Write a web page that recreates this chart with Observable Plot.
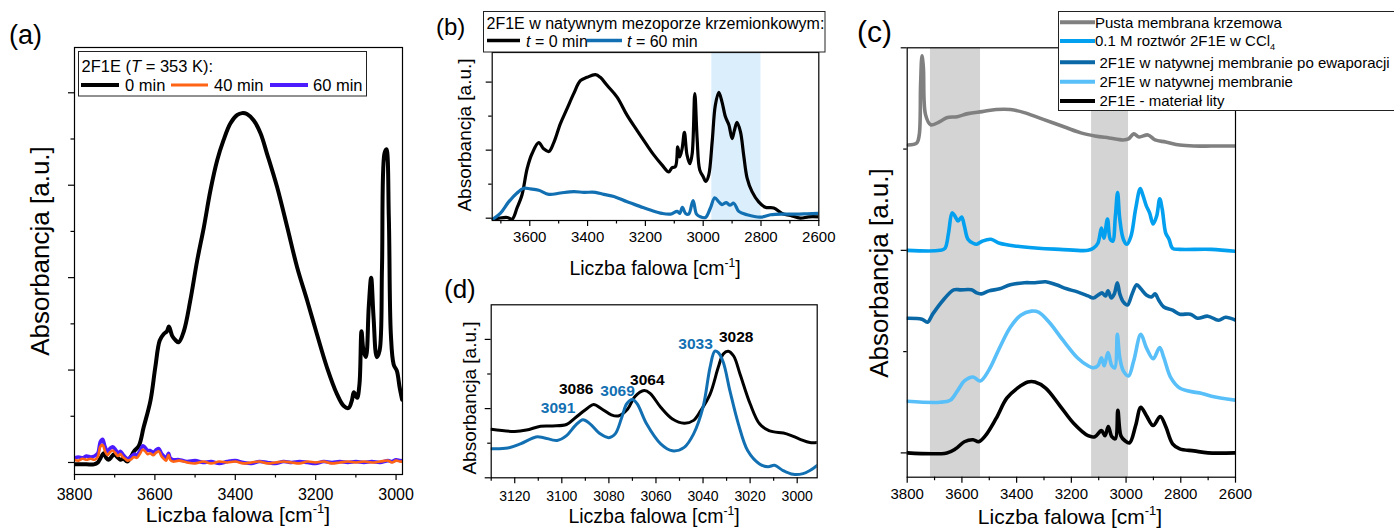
<!DOCTYPE html>
<html><head><meta charset="utf-8">
<script src="https://cdn.jsdelivr.net/npm/d3@7"></script>
<script src="https://cdn.jsdelivr.net/npm/@observablehq/plot@0.6"></script>
<style>
body{margin:0;background:#fff;}
#root{position:relative;width:1394px;height:528px;overflow:hidden;background:#fff;}
#root svg{position:absolute;}
</style></head><body><div id="root"></div>
<script>
// ---------- DATA ----------
// Panel (a): 2F1E (T = 353 K)
const aWn0 = [3800,3770,3752,3742,3735,3727,3721,3715,3708,3702,3694,3686,3678,3669,3660,3652,3640,3628,3611,3599,3588,3578,3570,3565,3557,3548,3541,3528,3512,3495,3478,3462,3445,3429,3412,3395,3383,3371,3354,3337,3321,3296,3271,3246,3221,3197,3172,3147,3130,3118,3110,3105,3097,3091,3086,3081,3075,3068,3062,3056,3048,3041,3035,3029,3024,3018,3013,3006,2998,2991,2985];
const aAbs0 = [-0.02,-0.02,-0.02,0.0,0.05,0.10,0.05,0.03,0.06,0.09,0.06,0.03,0.04,0.01,0.06,0.12,0.18,0.38,0.67,1.03,1.32,1.39,1.42,1.47,1.37,1.32,1.30,1.42,1.75,2.18,2.55,2.94,3.27,3.49,3.67,3.76,3.78,3.77,3.70,3.56,3.34,2.98,2.55,2.11,1.75,1.39,1.03,0.74,0.61,0.59,0.67,0.76,0.70,0.85,1.42,1.21,1.14,1.68,2.00,1.57,1.14,1.21,2.11,3.34,3.39,2.65,1.39,1.06,0.99,0.81,0.68];
const aWnT = [3800,3790,3780,3770,3760,3750,3742,3736,3730,3724,3718,3712,3705,3698,3692,3686,3680,3674,3668,3660,3652,3645,3638,3630,3624,3618,3612,3604,3596,3590,3584,3578,3572,3566,3562,3555,3540,3520,3500,3480,3460,3440,3420,3400,3380,3360,3340,3320,3300,3280,3260,3240,3220,3200,3180,3160,3140,3120,3100,3080,3060,3040,3020,3010,3000,2990,2984];
const aAbs40 = [0.03,0.02,0.04,0.03,0.04,0.03,0.06,0.17,0.19,0.12,0.08,0.11,0.13,0.10,0.07,0.09,0.06,0.04,0.02,0.03,0.06,0.05,0.09,0.14,0.12,0.09,0.10,0.08,0.11,0.12,0.07,0.04,0.02,0.08,0.03,0.01,0.02,0.0,-0.01,0.01,-0.01,0.01,0.0,0.01,-0.01,0.0,0.01,-0.01,0.0,0.01,0.0,-0.01,0.01,0.0,0.01,-0.01,0.0,0.01,0.0,0.01,0.0,0.01,0.02,0.0,0.02,0.01,0.01];
const aAbs60 = [0.05,0.06,0.05,0.07,0.06,0.07,0.10,0.22,0.25,0.17,0.12,0.15,0.17,0.14,0.10,0.12,0.09,0.06,0.04,0.06,0.09,0.08,0.12,0.18,0.16,0.13,0.13,0.11,0.14,0.15,0.10,0.07,0.04,0.10,0.05,0.03,0.03,0.01,0.02,0.0,0.01,-0.01,0.01,0.02,0.0,-0.01,0.01,0.0,-0.01,0.01,0.0,0.01,0.0,-0.01,0.01,0.0,0.01,0.0,0.01,0.0,0.01,0.0,0.02,0.01,0.03,0.02,0.02];

// Panel (b): 2F1E in native silica mesopore
const bWn0 = [3730,3707,3678,3661,3644,3627,3609,3592,3569,3552,3534,3517,3494,3471,3448,3425,3402,3373,3356,3332,3298,3263,3229,3194,3171,3142,3119,3108,3096,3088,3081,3073,3065,3056,3046,3038,3029,3021,3012,3000,2991,2981,2969,2958,2946,2935,2923,2911,2900,2892,2883,2871,2860,2848,2831,2808,2785,2756,2727,2698,2664,2635,2600];
const bAbs0 = [-0.02,0.0,0.01,-0.015,0.15,0.34,0.73,0.95,1.11,1.02,0.98,1.11,1.39,1.61,1.83,2.02,2.07,2.11,2.07,1.95,1.78,1.51,1.29,1.07,0.93,0.78,0.68,0.74,0.76,1.05,0.90,1.02,1.26,0.93,0.80,0.95,1.83,1.17,0.71,0.61,0.54,0.63,1.12,1.66,1.85,1.71,1.49,1.37,1.17,1.29,1.41,1.27,0.93,0.59,0.39,0.24,0.16,0.15,0.07,0.04,0.0,0.02,0.02];
const bWn60 = [3730,3702,3673,3644,3621,3598,3569,3534,3494,3448,3413,3373,3344,3309,3263,3217,3183,3142,3113,3090,3081,3072,3061,3050,3035,3023,3010,2992,2975,2960,2946,2935,2920,2908,2894,2877,2848,2802,2767,2721,2675,2640,2600];
const bAbs60 = [-0.02,0.07,0.24,0.37,0.44,0.43,0.41,0.35,0.37,0.39,0.38,0.38,0.35,0.32,0.24,0.17,0.12,0.07,0.06,0.10,0.07,0.16,0.07,0.06,0.26,0.06,0.02,0.01,0.15,0.30,0.24,0.20,0.23,0.19,0.22,0.10,0.05,0.015,0.05,0.06,0.06,0.065,0.07];
const bBandFrom = [2970];
const bBandTo = [2800];

// Panel (c): stacked spectra
const cWnGray = [3797,3765,3756,3751,3746,3741,3733,3714,3681,3656,3617,3578,3526,3475,3423,3372,3320,3268,3217,3165,3114,3062,3010,2991,2972,2952,2920,2894,2855,2804,2752,2688,2600];
const cAbsGray = [3.04,3.06,3.14,3.64,3.92,3.81,3.34,3.24,3.27,3.31,3.32,3.35,3.37,3.39,3.39,3.36,3.31,3.26,3.21,3.16,3.13,3.11,3.09,3.10,3.15,3.12,3.14,3.09,3.07,3.04,3.03,3.03,3.03];
const cWnSol = [3800,3681,3662,3649,3636,3626,3614,3601,3591,3578,3559,3546,3526,3494,3462,3397,3320,3243,3139,3120,3103,3090,3081,3068,3058,3049,3039,3031,3023,3010,2997,2982,2965,2948,2938,2926,2914,2901,2888,2877,2868,2855,2843,2830,2804,2688,2600];
const cAbsSol = [2.0,2.0,2.02,2.17,2.37,2.34,2.29,2.33,2.24,2.11,2.07,2.06,2.09,2.11,2.07,2.04,2.02,2.01,2.0,2.02,2.07,2.22,2.12,2.31,2.11,2.09,2.34,2.57,2.31,2.11,2.06,2.14,2.41,2.61,2.54,2.44,2.37,2.26,2.34,2.51,2.41,2.17,2.11,2.02,2.01,2.01,1.99];
const cWnEvap = [3800,3746,3726,3707,3668,3630,3604,3565,3546,3529,3501,3462,3423,3372,3333,3294,3255,3217,3178,3139,3120,3101,3088,3075,3066,3054,3043,3032,3023,3010,2995,2978,2961,2946,2926,2907,2894,2881,2862,2830,2804,2765,2739,2701,2662,2636,2600];
const cAbsEvap = [1.33,1.32,1.29,1.37,1.51,1.61,1.61,1.61,1.58,1.57,1.60,1.62,1.66,1.68,1.68,1.69,1.66,1.62,1.59,1.55,1.53,1.56,1.58,1.55,1.60,1.53,1.57,1.68,1.57,1.49,1.46,1.57,1.66,1.62,1.56,1.54,1.57,1.51,1.44,1.41,1.37,1.37,1.33,1.35,1.31,1.34,1.31];
const cWnNat = [3800,3681,3643,3617,3591,3559,3533,3501,3462,3423,3385,3346,3320,3281,3230,3178,3139,3120,3103,3090,3080,3066,3052,3041,3032,3023,3010,2991,2972,2946,2926,2901,2877,2862,2836,2804,2752,2726,2688,2600];
const cAbsNat = [0.51,0.50,0.52,0.61,0.71,0.75,0.71,0.82,1.04,1.24,1.36,1.40,1.39,1.29,1.11,0.94,0.86,0.84,0.86,0.94,0.86,0.99,0.86,0.84,1.17,0.94,0.81,0.76,0.91,1.17,1.04,0.93,1.04,0.94,0.74,0.64,0.60,0.59,0.56,0.52];
const cWnBulk = [3800,3655,3623,3591,3559,3539,3514,3475,3436,3397,3359,3333,3294,3243,3191,3139,3114,3090,3077,3065,3052,3039,3030,3019,3004,2987,2965,2946,2926,2901,2875,2855,2830,2804,2752,2701,2600];
const cAbsBulk = [0.0,0.0,0.04,0.11,0.13,0.11,0.17,0.34,0.54,0.64,0.70,0.70,0.64,0.47,0.29,0.17,0.16,0.22,0.17,0.26,0.16,0.14,0.42,0.17,0.12,0.10,0.27,0.45,0.37,0.27,0.36,0.26,0.09,0.04,0.02,0.0,0.0];
const cBandFrom = [3715,3126];
const cBandTo = [3532,2991];

// Panel (d): C-H region zoom
const dWn0 = [3130,3120,3115,3109,3104,3098,3094,3089,3086.5,3083,3079,3076,3072,3069,3065,3062.5,3058,3053,3048,3044,3041,3037,3033.5,3031.4,3029.3,3027,3024.3,3020,3016,3012,3004.5,2999,2994.6,2991.5];
const dAbs0 = [0.70,0.67,0.69,0.745,0.75,0.77,0.875,1.01,1.06,0.995,0.91,0.894,0.995,1.17,1.26,1.22,1.02,0.85,0.79,0.83,0.97,1.21,1.60,1.79,1.83,1.76,1.50,1.07,0.78,0.68,0.635,0.56,0.51,0.51];
const dWn60 = [3130,3123,3117.6,3111,3107.7,3102,3098,3094.3,3091,3088,3083.7,3080,3077.3,3074.5,3072.4,3070,3068,3064,3058,3053,3048,3044,3040,3037,3035,3033.5,3031.4,3028.6,3025,3021,3016,3012.4,3009.6,3006,3001.7,2997.5,2994.6,2991.5];
const dAbs60 = [0.42,0.43,0.49,0.59,0.58,0.54,0.61,0.755,0.84,0.78,0.635,0.58,0.635,0.875,1.07,1.13,1.07,0.78,0.49,0.39,0.44,0.635,1.02,1.60,1.83,1.81,1.67,1.26,0.78,0.39,0.20,0.16,0.18,0.105,0.05,0.06,0.105,0.18];
const dLabel0 = ["3086","3064","3028"];
const dLabel0Wn = [3093.9,3063.7,3025.9];
const dLabel0Abs = [1.28,1.41,2.03];
const dLabel60 = ["3091","3069","3033"];
const dLabel60Wn = [3101.6,3076.3,3043.2];
const dLabel60Abs = [1.01,1.25,1.94];

// Tick labels
const ticksA = [3800,3600,3400,3200,3000];
const ticksBC = [3800,3600,3400,3200,3000,2800,2600];
const ticksD = [3120,3100,3080,3060,3040,3020,3000];

// ---------- DRAWING ----------
const FONT = '"Liberation Sans", Arial, Helvetica, sans-serif';
const root = document.getElementById("root");
const pts = (w, a) => w.map((x, i) => ({x, y: a[i]}));
const range = (a, b, s) => d3.range(a, b + s / 2, s);

function panel(cfg) {
  const marks = [];
  if (cfg.bands) {
    const bd = cfg.bands.from.map((f, i) => ({x1: f, x2: cfg.bands.to[i]}));
    marks.push(Plot.rect(bd, {x1: "x1", x2: "x2", fill: cfg.bands.fill}));
  }
  for (const s of cfg.series) {
    marks.push(Plot.line(pts(s.w, s.a), {x: "x", y: "y", stroke: s.color, strokeWidth: s.width, curve: "catmull-rom", clip: true, strokeLinejoin: "round"}));
  }
  if (cfg.extra) marks.push(...cfg.extra);
  marks.push(Plot.frame({stroke: "#000", strokeWidth: 1.2}));
  marks.push(Plot.axisX({ticks: cfg.xMajor, tickSize: 6, tickPadding: cfg.pad, tickFormat: d => String(d), label: null, strokeWidth: 1.2}));
  marks.push(Plot.axisX({ticks: cfg.xMinor, tickSize: 3.5, tickFormat: () => "", label: null, strokeWidth: 1.2}));
  marks.push(Plot.axisY({ticks: cfg.yMajor, tickSize: 6, tickFormat: () => "", label: null, strokeWidth: 1.2}));
  marks.push(Plot.axisY({ticks: cfg.yMinor, tickSize: 3.5, tickFormat: () => "", label: null, strokeWidth: 1.2}));
  const svg = Plot.plot({
    width: cfg.width, height: cfg.height,
    marginLeft: cfg.m[0], marginRight: cfg.m[1], marginTop: cfg.m[2], marginBottom: cfg.m[3],
    x: {domain: cfg.xDomain},
    y: {domain: cfg.yDomain},
    style: {fontFamily: FONT, fontSize: cfg.font + "px", color: "#000", background: "transparent", overflow: "visible"},
    marks
  });
  d3.select(svg).selectAll("text").filter(function () { return this.textContent === ""; }).remove();
  svg.style.left = cfg.left + "px";
  svg.style.top = cfg.top + "px";
  root.appendChild(svg);
}

// (a)
panel({
  left: 0, top: 0, width: 420, height: 528, m: [74, 18, 47, 54],
  xDomain: [3800, 2984], yDomain: [-0.13, 4.49],
  xMajor: ticksA, xMinor: range(3100, 3700, 200),
  yMajor: [0, 1, 2, 3, 4], yMinor: [0.5, 1.5, 2.5, 3.5],
  font: 16, pad: 8,
  series: [
    {w: aWn0, a: aAbs0, color: "#000", width: 4},
    {w: aWnT, a: aAbs60, color: "#4c1cff", width: 3.6},
    {w: aWnT, a: aAbs40, color: "#ff6414", width: 2.6}
  ]
});
// (b)
panel({
  left: 420, top: 0, width: 410, height: 270, m: [71.7, 11.7, 52, 50],
  xDomain: [3730, 2600], yDomain: [-0.034, 2.435],
  xMajor: [3600,3400,3200,3000,2800,2600], xMinor: range(2700, 3700, 200),
  yMajor: [0, 1, 2], yMinor: [0.5, 1.5],
  font: 15, pad: 5,
  bands: {from: bBandFrom, to: bBandTo, fill: "#dbeefc"},
  series: [
    {w: bWn0, a: bAbs0, color: "#000", width: 3.2},
    {w: bWn60, a: bAbs60, color: "#1270b2", width: 3.2}
  ]
});
// (c)
panel({
  left: 840, top: 0, width: 554, height: 528, m: [66.7, 159, 47.3, 51.3],
  xDomain: [3800, 2600], yDomain: [-0.24, 4.0],
  xMajor: ticksBC, xMinor: range(2700, 3700, 200),
  yMajor: [0, 2, 4], yMinor: [1, 3],
  font: 15, pad: 5,
  bands: {from: cBandFrom, to: cBandTo, fill: "#d4d4d4"},
  series: [
    {w: cWnGray, a: cAbsGray, color: "#808080", width: 3.6},
    {w: cWnSol, a: cAbsSol, color: "#04a0f0", width: 3.6},
    {w: cWnEvap, a: cAbsEvap, color: "#0b68a6", width: 3.6},
    {w: cWnNat, a: cAbsNat, color: "#58bff8", width: 3.6},
    {w: cWnBulk, a: cAbsBulk, color: "#000", width: 3.6}
  ]
});
// (d)
panel({
  left: 420, top: 270, width: 410, height: 258, m: [70.7, 13.3, 34.3, 50.7],
  xDomain: [3130, 2991.5], yDomain: [0, 2.5],
  xMajor: ticksD, xMinor: range(3010, 3130, 20),
  yMajor: [0, 1, 2], yMinor: [0.5, 1.5],
  font: 14, pad: 7,
  series: [
    {w: dWn0, a: dAbs0, color: "#000", width: 3},
    {w: dWn60, a: dAbs60, color: "#1270b2", width: 3}
  ],
  extra: [
    Plot.text(dLabel0, {x: (d, i) => dLabel0Wn[i], y: (d, i) => dLabel0Abs[i], text: d => d, fill: "#000", fontWeight: "bold", fontSize: 15.5, lineAnchor: "middle"}),
    Plot.text(dLabel60, {x: (d, i) => dLabel60Wn[i], y: (d, i) => dLabel60Abs[i], text: d => d, fill: "#1270b2", fontWeight: "bold", fontSize: 15.5, lineAnchor: "middle"})
  ]
});

// ---------- Overlay: panel letters, axis titles, legends ----------
const ov = d3.select(root).append("svg")
  .attr("width", 1394).attr("height", 528)
  .style("left", "0px").style("top", "0px")
  .style("font-family", FONT);

function txt(x, y, parts, o = {}) {
  const size = o.size || 16;
  const t = ov.append("text").attr("x", x).attr("y", y)
    .attr("font-size", size).attr("fill", o.fill || "#000")
    .attr("text-anchor", o.anchor || "start");
  if (o.weight) t.attr("font-weight", o.weight);
  if (o.rotate) t.attr("transform", `rotate(${o.rotate},${x},${y})`);
  if (typeof parts === "string") parts = [[parts]];
  let shift = 0;
  for (const [s, st] of parts) {
    const sp = t.append("tspan").text(s);
    let target = 0;
    if (st === "sup") { target = -0.42 * size; sp.attr("font-size", size * 0.62); }
    if (st === "sub") { target = 0.22 * size; sp.attr("font-size", size * 0.62); }
    if (st === "i") sp.attr("font-style", "italic");
    if (target - shift !== 0) sp.attr("dy", target - shift);
    shift = target;
  }
  return t;
}
function box(x, y, w, h) {
  ov.append("rect").attr("x", x).attr("y", y).attr("width", w).attr("height", h)
    .attr("fill", "#fff").attr("stroke", "#222").attr("stroke-width", 1);
}
function sw(x1, x2, y, color, w) {
  ov.append("line").attr("x1", x1).attr("x2", x2).attr("y1", y).attr("y2", y)
    .attr("stroke", color).attr("stroke-width", w);
}

// panel letters
txt(9, 44, "(a)", {size: 27});
txt(436, 35, "(b)", {size: 24});
txt(857, 42, "(c)", {size: 30});
txt(444, 298, "(d)", {size: 26});

// axis titles
const xl = [["Liczba falowa [cm"], ["-1", "sup"], ["]"]];
txt(238, 522, xl, {size: 21, anchor: "middle"});
txt(655, 275, xl, {size: 19.5, anchor: "middle"});
txt(654, 523, xl, {size: 19.5, anchor: "middle"});
txt(1070, 524, xl, {size: 21, anchor: "middle"});
txt(49, 251, "Absorbancja [a.u.]", {size: 26, anchor: "middle", rotate: -90});
txt(471, 135, "Absorbancja [a.u.]", {size: 19, anchor: "middle", rotate: -90});
txt(476, 398, "Absorbancja [a.u.]", {size: 19, anchor: "middle", rotate: -90});
txt(888, 273, "Absorbancja [a.u.]", {size: 26, anchor: "middle", rotate: -90});

// legend (a)
box(78.5, 51.5, 288, 44.5);
txt(81.5, 71.5, [["2F1E ("], ["T", "i"], [" = 353 K):"]], {size: 16.5});
sw(81, 119, 85, "#000", 4);
txt(125, 90.5, "0 min", {size: 16.5});
sw(171, 208, 85, "#ff6414", 3);
txt(214, 90.5, "40 min", {size: 16.5});
sw(270, 308, 85, "#4c1cff", 4);
txt(313, 90.5, "60 min", {size: 16.5});

// legend (b)
box(483.5, 11.5, 341.5, 40.5);
txt(486.5, 29, "2F1E w natywnym mezoporze krzemionkowym:", {size: 16});
sw(487, 520, 40.5, "#000", 3.5);
txt(526, 46.5, [["t", "i"], [" = 0 min"]], {size: 16});
sw(587, 622, 40.5, "#1270b2", 3.5);
txt(627, 46.5, [["t", "i"], [" = 60 min"]], {size: 16});

// legend (c)
box(1058.5, 11.5, 345, 99);
const cLeg = [
  {c: "#808080", t: [["Pusta membrana krzemowa"]], x: 1095, y: 22.3},
  {c: "#04a0f0", t: [["0.1 M roztwór 2F1E w CCl"], ["4", "sub"]], x: 1095, y: 41},
  {c: "#0b68a6", t: [["2F1E w natywnej membranie po ewaporacji"]], x: 1099.5, y: 62.3},
  {c: "#58bff8", t: [["2F1E w natywnej membranie"]], x: 1099.5, y: 81.7},
  {c: "#000", t: [["2F1E - materiał lity"]], x: 1099.5, y: 101}
];
for (const e of cLeg) {
  sw(1060, 1095, e.y, e.c, 4);
  txt(e.x, e.y + 5.3, e.t, {size: 15});
}
</script>
</body></html>
